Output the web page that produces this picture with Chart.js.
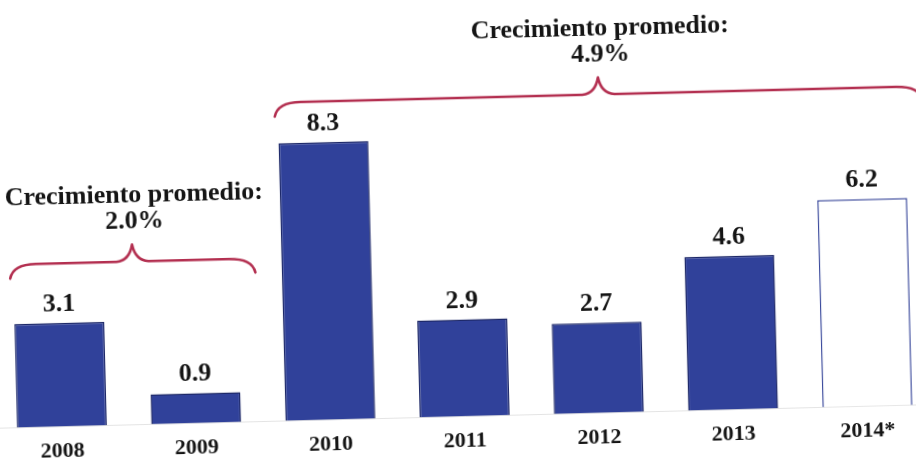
<!DOCTYPE html>
<html>
<head>
<meta charset="utf-8">
<script src="https://cdn.jsdelivr.net/npm/chart.js@4"></script>
<style>
  html, body { margin: 0; padding: 0; background: #ffffff; overflow: hidden; width: 916px; height: 463px; }
  #wrap { position: absolute; left: -12px; top: 0; width: 942px; height: 463px;
          transform: rotate(-1.45deg); transform-origin: 50% 50%; }
</style>
</head>
<body>
<div id="wrap"><canvas id="c" width="942" height="463"></canvas></div>
<script>
// ---- data ----
const years = ['2008', '2009', '2010', '2011', '2012', '2013', '2014*'];
const growth = [3.1, 0.9, 8.3, 2.9, 2.7, 4.6, 6.2];
const groupTitles = ['Crecimiento promedio:', 'Crecimiento promedio:'];
const groupAverages = ['2.0%', '4.9%'];
const groupFirst = [0, 2];
const groupLast = [1, 6];
const braceLevels = [4.88, 9.52];

const BAR_FILL = '#30419a';
const BAR_EDGE = '#1d2868';
const BRACE = '#b32f50';
const TEXT = '#151515';
const SERIF = '"Liberation Serif", "DejaVu Serif", serif';

const fills = years.map(y => y.endsWith('*') ? '#ffffff' : BAR_FILL);
const edges = years.map(y => y.endsWith('*') ? '#3b4a9c' : BAR_EDGE);

const annotations = {
  id: 'annotations',
  afterDatasetsDraw(chart) {
    const ctx = chart.ctx;
    const meta = chart.getDatasetMeta(0);
    const ys = chart.scales.y;
    ctx.save();
    // value labels
    ctx.fillStyle = TEXT;
    ctx.font = 'bold 26px ' + SERIF;
    ctx.textAlign = 'center';
    ctx.textBaseline = 'alphabetic';
    meta.data.forEach((bar, i) => {
      ctx.fillText(growth[i].toFixed(1), bar.x, bar.y - 12);
    });
    // braces
    groupFirst.forEach((f, g) => {
      const a = meta.data[f], b = meta.data[groupLast[g]];
      const xL = a.x - a.width / 2 - 3;
      const xR = b.x + b.width / 2 + 18;
      const xT = (xL + xR) / 2;
      const yH = ys.getPixelForValue(braceLevels[g]);
      ctx.strokeStyle = BRACE;
      ctx.lineWidth = 2.6;
      ctx.lineCap = 'round';
      ctx.lineJoin = 'round';
      ctx.beginPath();
      ctx.moveTo(xL, yH + 14);
      ctx.quadraticCurveTo(xL + 3, yH, xL + 26, yH);
      ctx.lineTo(xT - 16, yH);
      ctx.quadraticCurveTo(xT - 3, yH - 1, xT, yH - 17);
      ctx.quadraticCurveTo(xT + 3, yH - 1, xT + 16, yH);
      ctx.lineTo(xR - 26, yH);
      ctx.quadraticCurveTo(xR - 3, yH, xR, yH + 14);
      ctx.stroke();
      ctx.fillStyle = TEXT;
      ctx.font = 'bold 26px ' + SERIF;
      ctx.fillText(groupTitles[g], xT + 3, yH - 59);
      ctx.fillText(groupAverages[g], xT + 3, yH - 33);
    });
    ctx.restore();
  }
};

new Chart(document.getElementById('c'), {
  type: 'bar',
  data: {
    labels: years,
    datasets: [{
      data: growth,
      backgroundColor: fills,
      borderColor: edges,
      borderWidth: 1.5,
      borderSkipped: 'bottom',
      barPercentage: 0.67,
      categoryPercentage: 1.0
    }]
  },
  options: {
    responsive: false,
    animation: false,
    devicePixelRatio: 1,
    layout: { padding: { left: 2, right: 0, top: 0, bottom: -4 } },
    plugins: { legend: { display: false }, tooltip: { enabled: false } },
    scales: {
      x: {
        grid: { display: false, drawTicks: false },
        border: { display: true, color: '#e4e4e4', width: 1 },
        ticks: { color: TEXT, padding: 12, font: { family: SERIF, size: 22, weight: 'bold' } }
      },
      y: { display: false, min: 0, max: 12.45 }
    }
  },
  plugins: [annotations]
});
</script>
</body>
</html>
